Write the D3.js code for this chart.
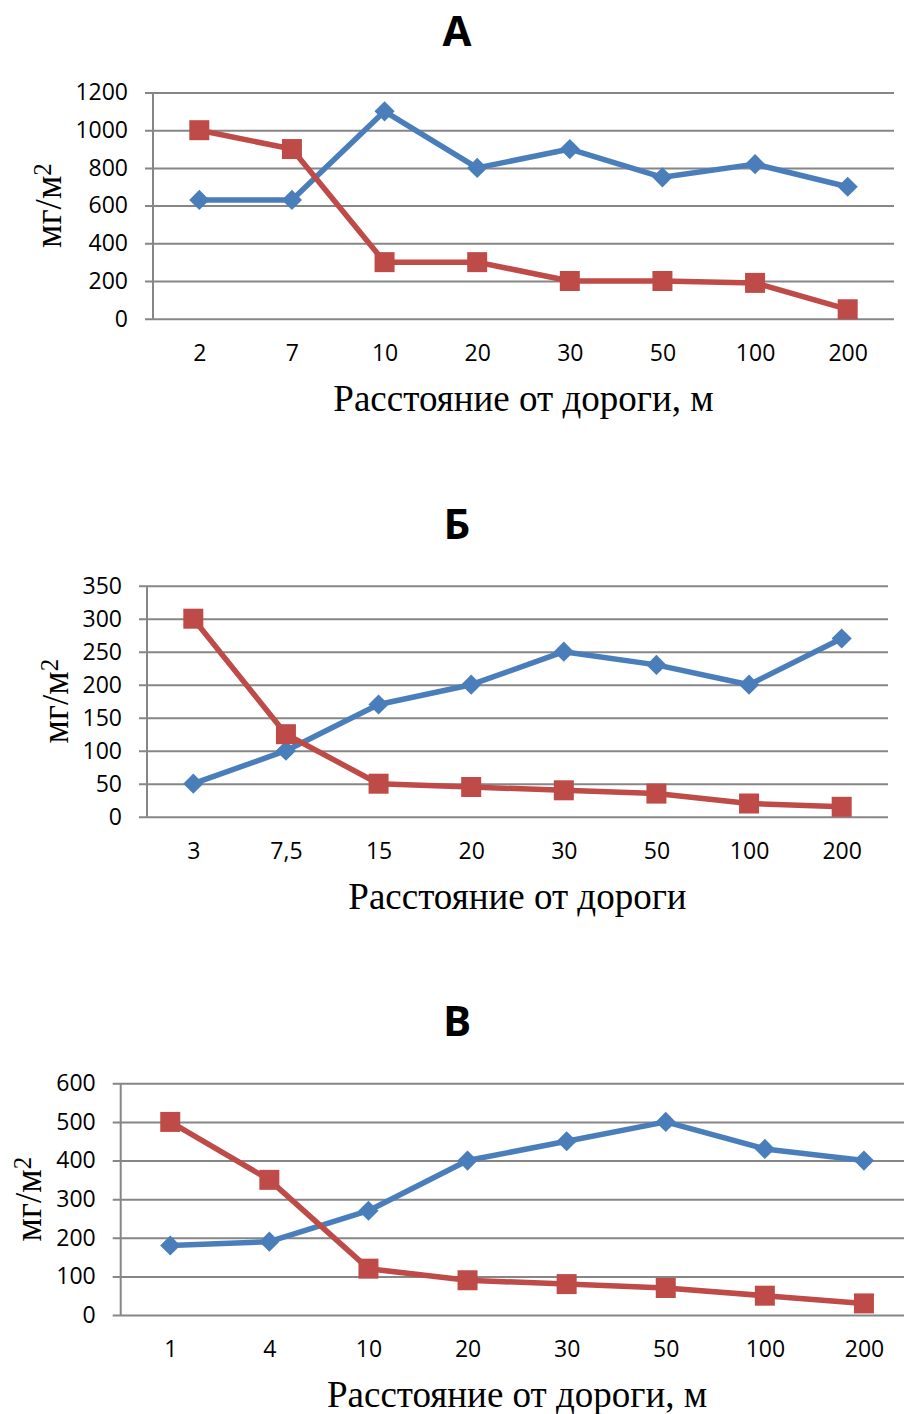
<!DOCTYPE html>
<html>
<head>
<meta charset="utf-8">
<script src="https://cdn.jsdelivr.net/npm/d3@7"></script>
<style>
  body { margin: 0; background: #fff; }
  svg { display: block; }
</style>
</head>
<body>
<div id="chart"></div>
<script>
// data
var catsA = ["2", "7", "10", "20", "30", "50", "100", "200"]
var blueA = [630, 630, 1100, 800, 900, 750, 820, 700]
var redA = [1000, 900, 300, 300, 200, 200, 190, 50]
var ticksA = [0, 200, 400, 600, 800, 1000, 1200]

var catsB = ["3", "7,5", "15", "20", "30", "50", "100", "200"]
var blueB = [50, 100, 170, 200, 250, 230, 200, 270]
var redB = [300, 125, 50, 45, 40, 35, 20, 15]
var ticksB = [0, 50, 100, 150, 200, 250, 300, 350]

var catsC = ["1", "4", "10", "20", "30", "50", "100", "200"]
var blueC = [180, 190, 270, 400, 450, 500, 430, 400]
var redC = [500, 350, 120, 90, 80, 70, 50, 30]
var ticksC = [0, 100, 200, 300, 400, 500, 600]

var blue = "#4a7ebb", red = "#be4b48", grid = "#868686"

var svg = d3.select("#chart").append("svg")
    .attr("width", 904)
    .attr("height", 1414)

function drawPanel(p) {
    var g = svg.append("g")
    var x = d3.scalePoint().domain(p.cats).range([p.left, p.right]).padding(0.5)
    var y = d3.scaleLinear().domain([0, d3.max(p.ticks)]).range([p.bottom, p.top])

    // panel letter
    g.append("text")
        .attr("x", 457)
        .attr("y", p.top - 47)
        .attr("text-anchor", "middle")
        .style("font-family", "'Open Sans', sans-serif")
        .style("font-weight", "bold")
        .style("font-size", "42px")
        .text(p.title)

    // y axis with gridlines
    var yAxis = g.append("g")
        .attr("transform", "translate(" + p.left + ",0)")
        .call(d3.axisLeft(y).tickValues(p.ticks).tickFormat(d3.format("d")).tickSize(8).tickPadding(17))
    yAxis.select(".domain").remove()
    yAxis.selectAll(".tick line")
        .attr("x2", -8)
        .attr("x1", p.right - p.left)
        .attr("stroke", grid)
        .attr("stroke-width", 2)
    yAxis.selectAll(".tick text")
        .style("font-family", "'Open Sans', sans-serif")
        .style("font-size", "23px")
        .attr("fill", "#000")
    g.append("line")
        .attr("x1", p.left).attr("x2", p.left)
        .attr("y1", p.top).attr("y2", p.bottom)
        .attr("stroke", grid)
        .attr("stroke-width", 2)

    // x axis labels
    var xAxis = g.append("g")
        .attr("transform", "translate(0," + p.bottom + ")")
        .call(d3.axisBottom(x).tickSize(0).tickPadding(26))
    xAxis.select(".domain").remove()
    xAxis.selectAll(".tick text")
        .style("font-family", "'Open Sans', sans-serif")
        .style("font-size", "23px")
        .attr("fill", "#000")

    // axis titles
    g.append("text")
        .attr("x", (p.left + p.right) / 2)
        .attr("y", p.bottom + 92)
        .attr("text-anchor", "middle")
        .style("font-family", "'Liberation Serif', serif")
        .style("font-size", "37px")
        .text(p.xTitle)

    var yt = g.append("text")
        .attr("transform", "translate(" + (p.left - p.yOff) + "," + ((p.top + p.bottom) / 2) + ") rotate(-90)")
        .attr("text-anchor", "middle")
        .attr("dy", "0.3em")
        .style("font-family", "'Liberation Serif', serif")
        .style("font-size", "37px")
    yt.append("tspan").text("мг/м")
    yt.append("tspan").attr("dy", "-0.42em").style("font-size", "25px").text("2")

    // series
    var line = d3.line()
        .x(function(d, i) { return x(p.cats[i]) })
        .y(function(d) { return y(d) })

    g.append("path")
        .datum(p.blue)
        .attr("d", line)
        .attr("fill", "none")
        .attr("stroke", blue)
        .attr("stroke-width", 5.5)
        .attr("stroke-linejoin", "round")
    g.append("path")
        .datum(p.red)
        .attr("d", line)
        .attr("fill", "none")
        .attr("stroke", red)
        .attr("stroke-width", 5.5)
        .attr("stroke-linejoin", "round")

    g.selectAll(".diamond")
        .data(p.blue)
        .enter().append("path")
        .attr("d", d3.symbol().type(d3.symbolDiamond2).size(260))
        .attr("transform", function(d, i) { return "translate(" + x(p.cats[i]) + "," + y(d) + ")" })
        .attr("fill", blue)
    g.selectAll(".square")
        .data(p.red)
        .enter().append("rect")
        .attr("x", function(d, i) { return x(p.cats[i]) - 10 })
        .attr("y", function(d) { return y(d) - 10 })
        .attr("width", 20)
        .attr("height", 20)
        .attr("fill", red)
}

drawPanel({ title: "А", cats: catsA, blue: blueA, red: redA, ticks: ticksA,
    left: 153, right: 894, top: 92.5, bottom: 318.7, yOff: 103,
    xTitle: "Расстояние от дороги, м" })
drawPanel({ title: "Б", cats: catsB, blue: blueB, red: redB, ticks: ticksB,
    left: 147, right: 888, top: 585.7, bottom: 816.7, yOff: 90,
    xTitle: "Расстояние от дороги" })
drawPanel({ title: "В", cats: catsC, blue: blueC, red: redC, ticks: ticksC,
    left: 120.7, right: 913.5, top: 1083.3, bottom: 1315, yOff: 90.7,
    xTitle: "Расстояние от дороги, м" })
</script>
</body>
</html>
